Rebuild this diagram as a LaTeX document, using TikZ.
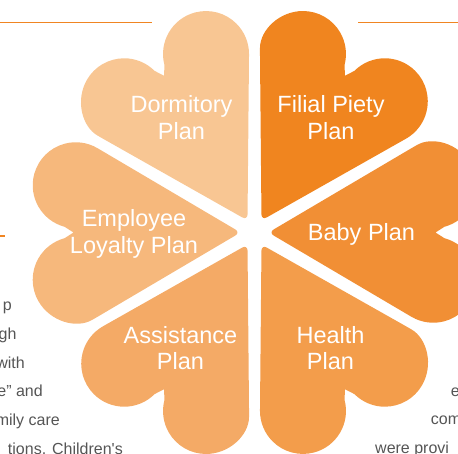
\documentclass[tikz,border=0pt]{standalone}
\usepackage{fontspec}
\usepackage{tikz}
\newfontfamily\planfont{Liberation Sans}
\definecolor{dormcol}{HTML}{F8C693}
\definecolor{filialcol}{HTML}{F0851F}
\definecolor{babycol}{HTML}{F18F35}
\definecolor{healthcol}{HTML}{F39D4B}
\definecolor{assistcol}{HTML}{F4AA66}
\definecolor{loyalcol}{HTML}{F6B87C}
\definecolor{rulecol}{HTML}{F08522}
\definecolor{paracol}{HTML}{555555}

\begin{document}
\begin{tikzpicture}[x=1pt, y=1pt,
    petal/.pic={\fill (157.3,84.5) arc[start angle=120, end angle=-75, radius=43]
        -- (181,0) -- (189.9,-5.7) arc[start angle=75, end angle=-120, radius=43]
        [rounded corners=6] -- (14,0) -- cycle;},
    plan/.style={text=white, align=center, inner sep=0pt,
        font=\planfont\fontsize{23.5}{26.5}\selectfont},
    para/.style={text=paracol, inner sep=0pt, font=\planfont\fontsize{16}{19}\selectfont},
    rule/.style={draw=rulecol, line width=1.2pt}]
    \useasboundingbox (0,0) rectangle (458,454);
    \clip (0,0) rectangle (458,454);
    \coordinate (c) at (254.5,221.5);
    % six petals round the centre
    \path (c) pic[fill=dormcol, rotate=120] {petal};
    \path (c) pic[fill=filialcol, rotate=60] {petal};
    \path (c) pic[fill=babycol, rotate=0] {petal};
    \path (c) pic[fill=healthcol, rotate=-60] {petal};
    \path (c) pic[fill=assistcol, rotate=-120] {petal};
    \path (c) pic[fill=loyalcol, rotate=180] {petal};
    \node[plan] (dorm)   at (181.5,336.5) {Dormitory\\Plan};
    \node[plan] (filial) at (331,336.5)   {Filial Piety\\Plan};
    \node[plan] (baby)   at (361.5,219.1) {Baby Plan};
    \node[plan] (health) at (330.5,106)   {Health\\Plan};
    \node[plan] (assist) at (180.5,106)   {Assistance\\Plan};
    \node[plan] (loyal)  at (134,220.1)   {Employee\\Loyalty Plan};
    % rules and cut text
    \draw[rule] (0,431.5) -- (152,431.5);
    \draw[rule] (358,431.5) -- (458,431.5);
    \draw[rule] (0,218) -- (5,218);
    \node[para, anchor=base east] (l1) at (12,143.5)  {p};
    \node[para, anchor=base east] (l2) at (16.7,114.7) {gh};
    \node[para, anchor=base east] (l3) at (25,85.9)   {with};
    \node[para, anchor=base east] (l4) at (43,57.1)   {e” and};
    \node[para, anchor=base east] (l5) at (60,28.3)   {mily care};
    \node[para, anchor=base east] (l6) at (123,-0.5)  {tions. Children's};
    \node[para, anchor=base west] (r1) at (450.7,57.5) {e};
    \node[para, anchor=base west] (r2) at (430.7,29)   {com};
    \node[para, anchor=base west] (r3) at (375,0)      {were provi};
\end{tikzpicture}
\end{document}
